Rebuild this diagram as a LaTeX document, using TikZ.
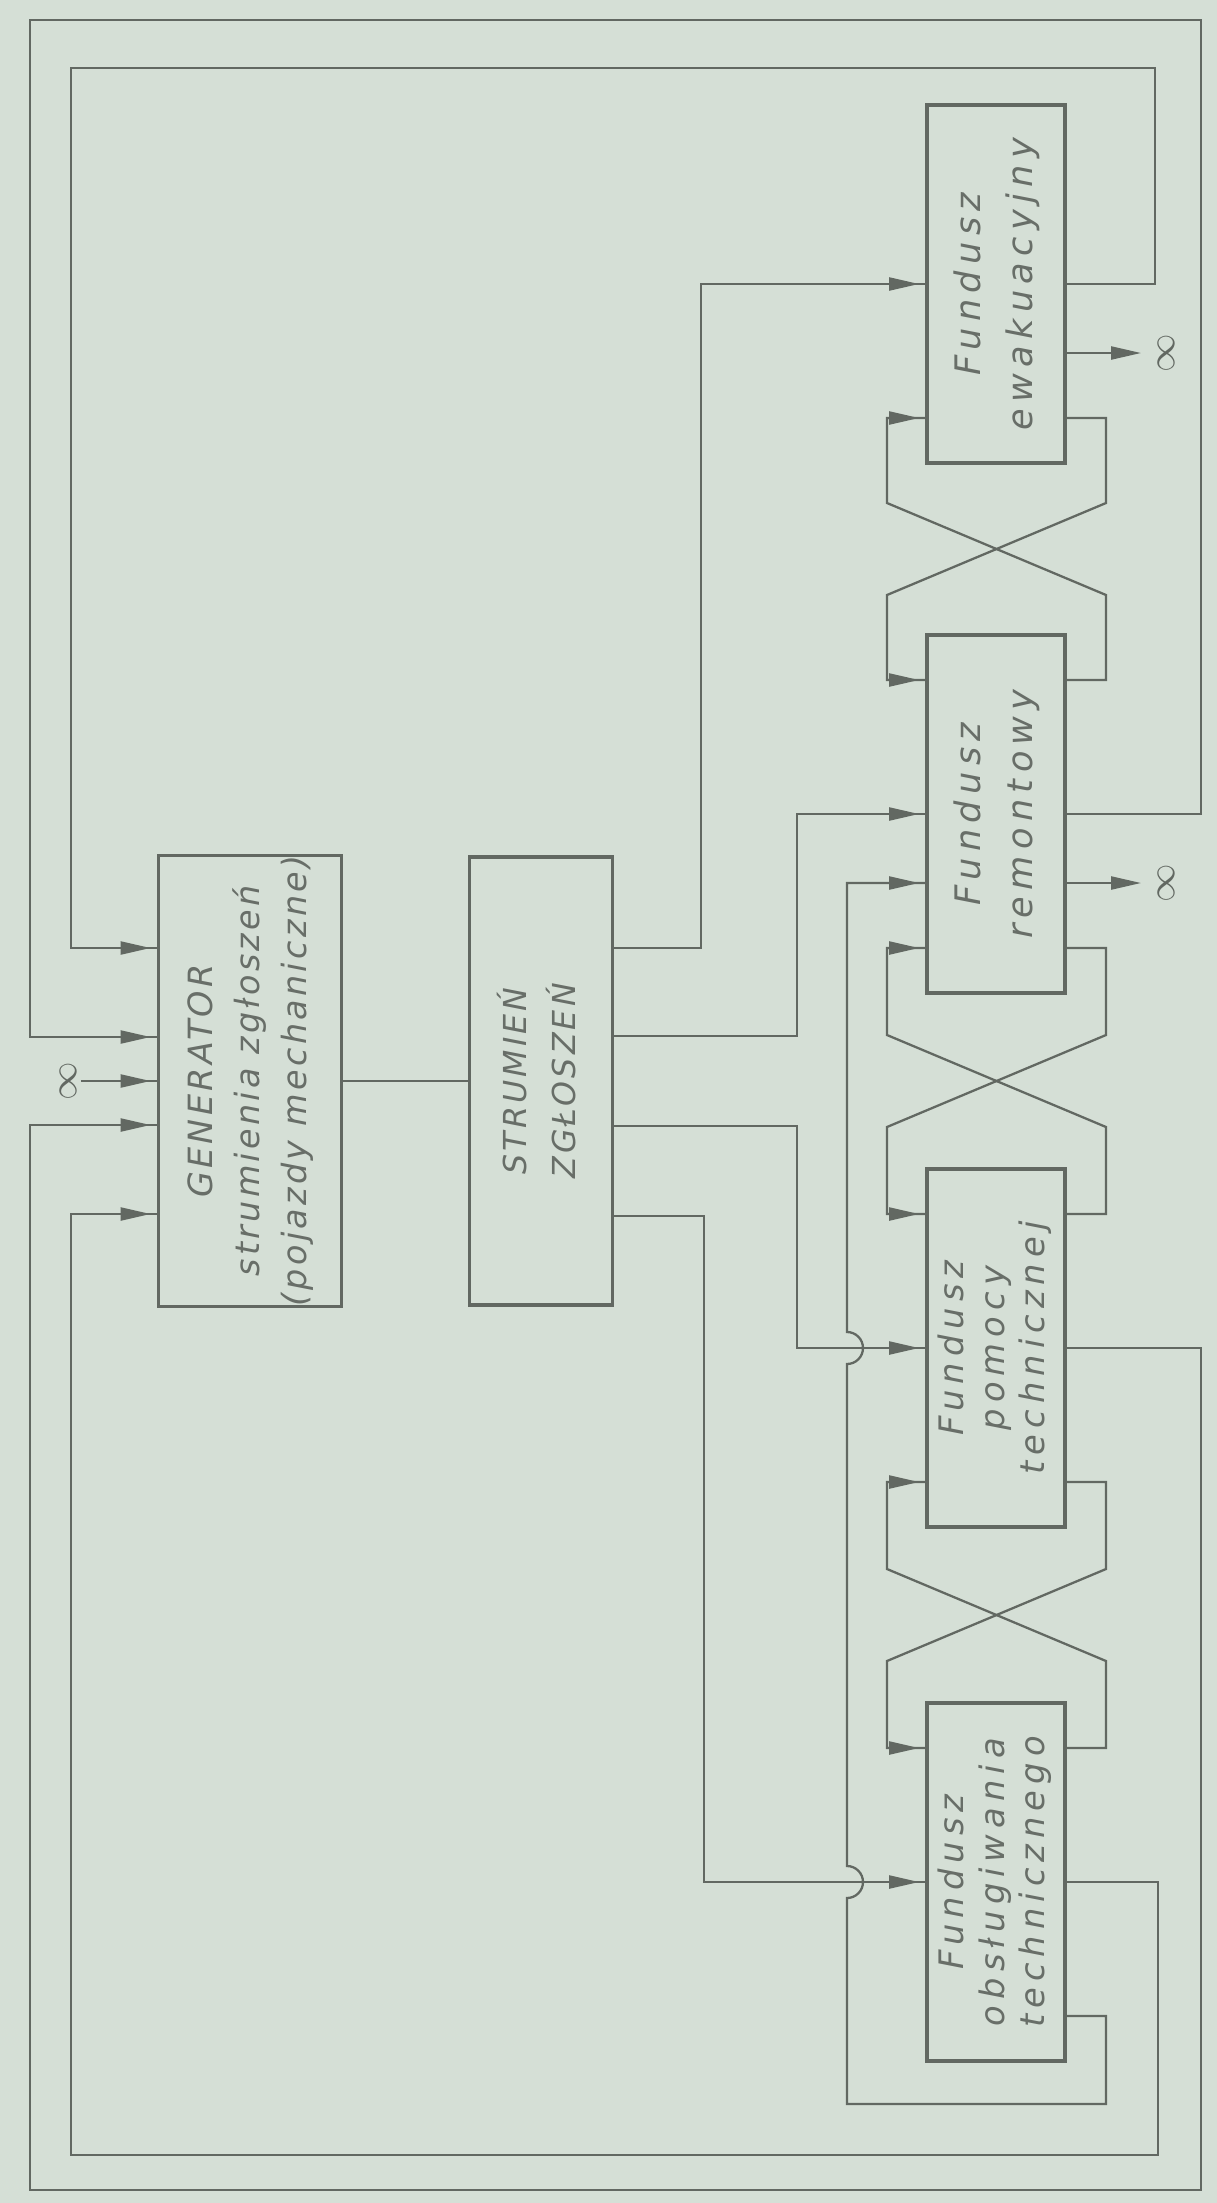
\documentclass[tikz,border=0pt]{standalone}
\usepackage{fontspec}
\usepackage{graphicx}
\usetikzlibrary{arrows.meta,calc,decorations.markings}
\newfontfamily\labelfont{DejaVu Sans}[LetterSpace=10]
\newfontfamily\fundfont{DejaVu Sans}[LetterSpace=18]
\definecolor{paper}{RGB}{213,223,214}
\definecolor{ink}{RGB}{98,104,98}
\definecolor{pencil}{RGB}{104,110,104}
\newcommand{\vlabel}[1]{\rotatebox{90}{\begin{tabular}{@{}c@{}}#1\end{tabular}}}

\begin{document}
\begin{tikzpicture}[
  x=0.1mm, y=-0.1mm,
  color=ink, line width=0.65pt,
  block/.style={rectangle, draw=ink, line width=1.1pt, text=pencil, inner sep=0pt},
  genbox/.style={block, minimum width=18.3mm, minimum height=44.8mm,
                 font=\labelfont\itshape\fontsize{9.5}{13.4}\selectfont},
  strbox/.style={block, minimum width=14.3mm, minimum height=44.8mm,
                 font=\labelfont\itshape\fontsize{9}{14}\selectfont},
  fundbox/.style={block, minimum width=13.8mm, minimum height=35.8mm,
                  font=\fundfont\itshape\fontsize{10}{15}\selectfont},
  fundboxiii/.style={fundbox, font=\fundfont\itshape\fontsize{9.6}{11.4}\selectfont},
  infsym/.style={rotate=90, inner sep=1pt, text=ink, font=\fontsize{11}{11}\selectfont},
  feed/.style={postaction={decorate}, decoration={markings,
               mark=at position -0.6mm with {\arrow{Triangle[length=3mm,width=1.3mm]}}}},
  outarrow/.style={-{Triangle[length=3mm,width=1.3mm]}, shorten >=1.2mm},
  hop/.style={start angle=-90, end angle=90, radius=1.6mm}
]
  \fill[paper] (0,0) rectangle (1217,2203);
  \useasboundingbox (0,0) rectangle (1217,2203);

  % generator and stream
  \node[genbox] (gen) at (250,1081) {\vlabel{GENERATOR\\strumienia zgłoszeń\\(pojazdy mechaniczne)}};
  \node[strbox] (str) at (541,1081) {\vlabel{STRUMIEŃ\\ZGŁOSZEŃ}};

  % funds
  \node[fundbox] (ewa) at (996,284) {\vlabel{Fundusz\\ewakuacyjny}};
  \node[fundbox] (rem) at (996,814) {\vlabel{Fundusz\\remontowy}};
  \node[fundboxiii] (pom) at (996,1348) {\vlabel{Fundusz\\pomocy\\technicznej}};
  \node[fundboxiii] (obs) at (996,1882) {\vlabel{Fundusz\\obsługiwania\\technicznego}};

  % infinity
  \node[infsym] (infg) at (68,1081) {$\infty$};
  \node[infsym] (infe) at (1166,353) {$\infty$};
  \node[infsym] (infr) at (1166,883) {$\infty$};

  \draw (gen.east) -- (str.west);
  \draw[feed] (infg) -- (gen.west);
  \draw[outarrow] (ewa.east |- 0,353) -- (infe);
  \draw[outarrow] (rem.east |- 0,883) -- (infr);

  % stream to funds
  \draw[feed] (str.east |- 0,948) -| (701,284) -- (ewa.west);
  \draw[feed] (str.east |- 0,1036) -| (797,814) -- (rem.west);
  \draw[feed] (str.east |- 0,1126) -| (797,1348) -- (pom.west);
  \draw[feed] (str.east |- 0,1216) -| (704,1882) -- (obs.west);

  % feedback to generator
  \draw[feed] (ewa.east) -| (1155,68) -| (71,948) -- (gen.west |- 0,948);
  \draw[feed] (rem.east) -| (1201,20) -| (30,1037) -- (gen.west |- 0,1037);
  \draw[feed] (pom.east) -| (1201,2190) -| (30,1125) -- (gen.west |- 0,1125);
  \draw[feed] (obs.east) -| (1158,2155) -| (71,1214) -- (gen.west |- 0,1214);
  \draw[feed] (obs.east |- 0,2016) -| (1106,2104) -| (847,1898) arc[hop]
    -- (847,1364) arc[hop] -- (847,883) -- (rem.west |- 0,883);

  % exchange between funds
  \draw[feed] (ewa.east |- 0,418) -| (1106,503) -- (887,595) |- (rem.west |- 0,680);
  \draw[feed] (rem.east |- 0,680) -| (1106,595) -- (887,503) |- (ewa.west |- 0,418);
  \draw[feed] (rem.east |- 0,948) -| (1106,1035) -- (887,1127) |- (pom.west |- 0,1214);
  \draw[feed] (pom.east |- 0,1214) -| (1106,1127) -- (887,1035) |- (rem.west |- 0,948);
  \draw[feed] (pom.east |- 0,1482) -| (1106,1569) -- (887,1661) |- (obs.west |- 0,1748);
  \draw[feed] (obs.east |- 0,1748) -| (1106,1661) -- (887,1569) |- (pom.west |- 0,1482);
\end{tikzpicture}
\end{document}
